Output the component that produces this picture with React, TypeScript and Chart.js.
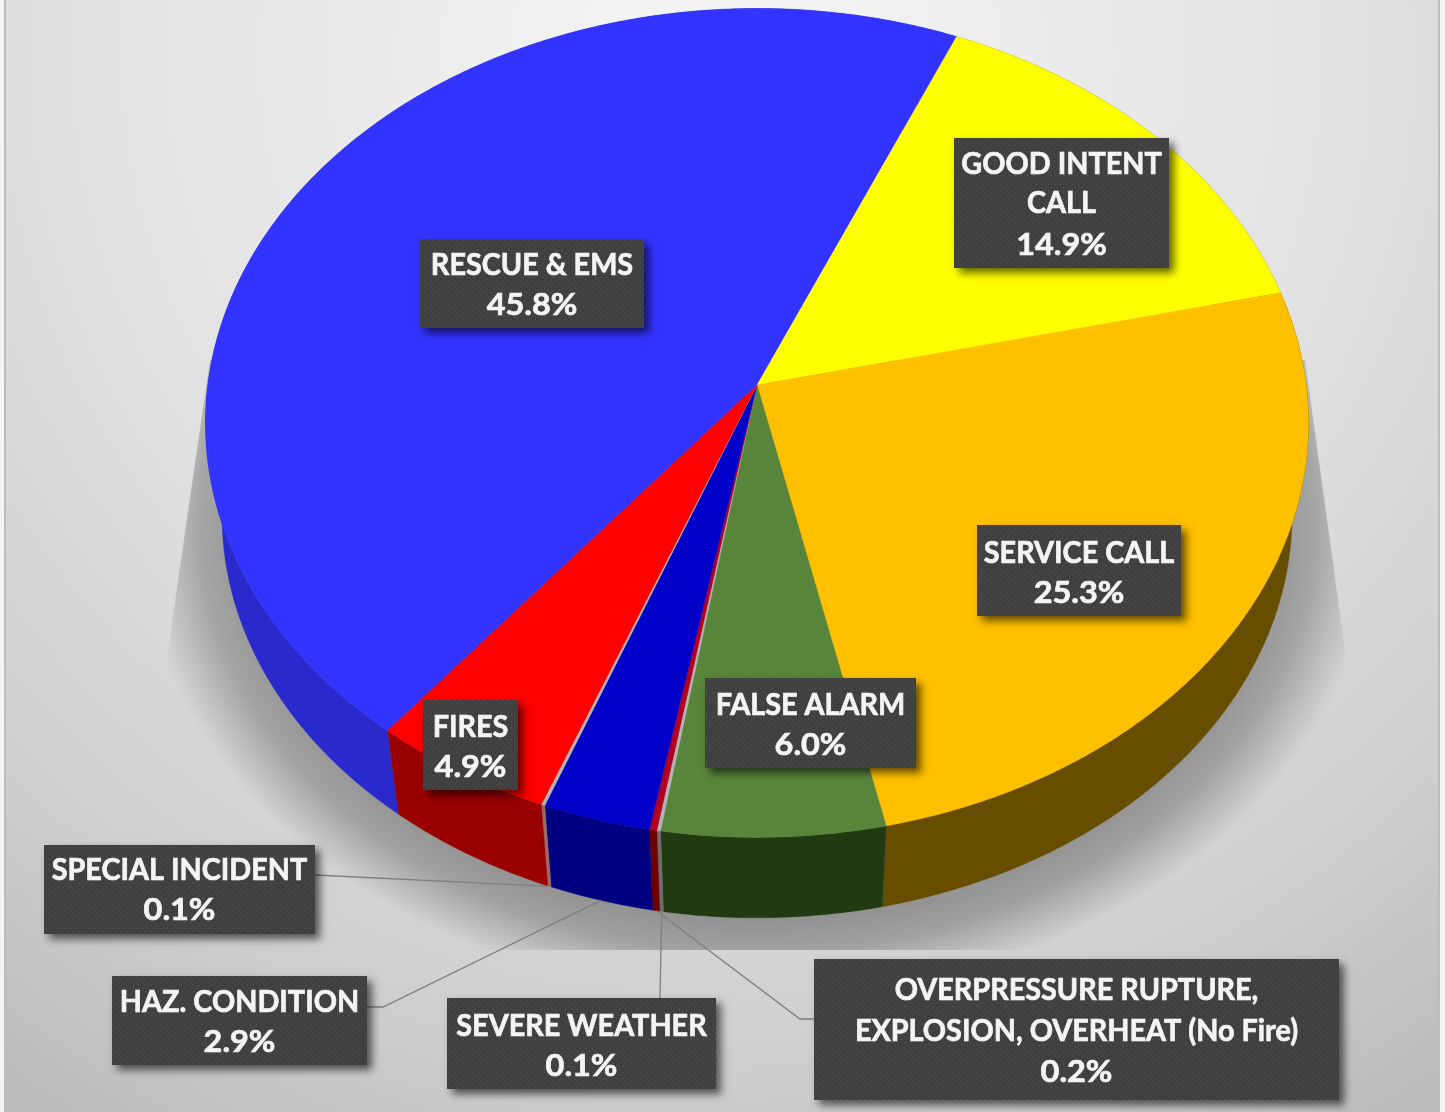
import React, { useEffect, useRef } from "react";
import { Chart, registerables, ArcElement, PieController } from "chart.js";

// Incident categories, in clockwise order round the pie
const categories = [
  "RESCUE & EMS",
  "GOOD INTENT CALL",
  "SERVICE CALL",
  "FALSE ALARM",
  "SEVERE WEATHER",
  "OVERPRESSURE RUPTURE, EXPLOSION, OVERHEAT (No Fire)",
  "HAZ. CONDITION",
  "SPECIAL INCIDENT",
  "FIRES",
];
const shares = [45.8, 14.9, 25.3, 6.0, 0.1, 0.2, 2.9, 0.1, 4.9];
const labelLines = [
  ["RESCUE & EMS"],
  ["GOOD INTENT", "CALL"],
  ["SERVICE CALL"],
  ["FALSE ALARM"],
  ["SEVERE WEATHER"],
  ["OVERPRESSURE RUPTURE,", "EXPLOSION, OVERHEAT (No Fire)"],
  ["HAZ. CONDITION"],
  ["SPECIAL INCIDENT"],
  ["FIRES"],
];
const topColors = ["#3333FF", "#FFFF00", "#FFC000", "#58853A", "#B4B4B4", "#B00020", "#0000C8", "#B4B4B4", "#FF0000"];
const sideColors = ["#2A2ACC", "#808000", "#664D00", "#223A12", "#6E6E6E", "#6E0000", "#000080", "#9A6A6A", "#990000"];

// Label boxes: [left, top, right, bottom], and the y of each text line
const labelBoxes = [
  [420, 239, 644, 328],
  [954, 138, 1169, 268],
  [977, 525, 1181, 616],
  [705, 678, 916, 768],
  [447, 998, 716, 1089],
  [814, 959, 1339, 1100],
  [112, 976, 367, 1065],
  [44, 845, 315, 934],
  [423, 700, 518, 790],
];
const labelLineYs = [
  [265, 305],
  [164, 203, 245],
  [553, 593],
  [705, 745],
  [1026, 1066],
  [990, 1031, 1072],
  [1002, 1042],
  [870, 910],
  [727, 767],
];
// Leader lines run from the lower rim of a thin slice through these elbows
const leaderElbows: Record<number, number[][]> = {
  4: [[660, 998]],
  5: [[800, 1019], [814, 1019]],
  6: [[383, 1007], [367, 1007]],
  7: [[315, 875]],
};

// Perspective of the tilted disc
const TILT = { sx: 549.2 / 385, sy: 411 / 385, k: 0.0916, rimScale: 0.97, depth: 94 };

function rimPoint(el: any, angle: number, lower = false) {
  const c = Math.cos(angle);
  const s = Math.sin(angle);
  const w = 1 - TILT.k * s;
  const scale = lower ? TILT.rimScale : 1;
  return {
    x: el.x + (TILT.sx * el.outerRadius * c * scale) / w,
    y: el.y + (lower ? TILT.depth : 0) + (TILT.sy * el.outerRadius * s * scale) / w,
  };
}

function arcSamples(start: number, end: number) {
  const n = Math.max(2, Math.ceil((end - start) / 0.01));
  return Array.from({ length: n + 1 }, (_, i) => start + ((end - start) * i) / n);
}

// Pie slice drawn as the top face of the tilted disc
class TiltedArc extends (ArcElement as any) {
  static id = "tiltedArc";
  draw(ctx: CanvasRenderingContext2D) {
    const self = this as any;
    ctx.save();
    ctx.beginPath();
    ctx.moveTo(self.x, self.y);
    for (const a of arcSamples(self.startAngle, self.endAngle)) {
      const p = rimPoint(self, a);
      ctx.lineTo(p.x, p.y);
    }
    ctx.closePath();
    ctx.fillStyle = self.options.backgroundColor;
    ctx.fill();
    ctx.strokeStyle = self.options.backgroundColor;
    ctx.lineWidth = 0.3;
    ctx.stroke();
    ctx.restore();
  }
}

class TiltedPie extends (PieController as any) {
  static id = "tiltedPie";
  static defaults = { dataElementType: "tiltedArc" };
}

Chart.register(...registerables, TiltedArc as any, TiltedPie as any);

function dottedPattern(ctx: CanvasRenderingContext2D) {
  const tile = document.createElement("canvas");
  tile.width = 6;
  tile.height = 6;
  const t = tile.getContext("2d")!;
  t.fillStyle = "#404040";
  t.fillRect(0, 0, 6, 6);
  t.fillStyle = "#545454";
  t.fillRect(1, 1, 1, 1);
  t.fillRect(4, 4, 1, 1);
  return ctx.createPattern(tile, "repeat")!;
}

const backdrop = {
  id: "backdrop",
  beforeDraw(chart: any) {
    const { ctx, width, height } = chart;
    ctx.save();
    const bg = ctx.createRadialGradient(722, 60, 100, 722, 60, 1250);
    bg.addColorStop(0, "#F3F3F3");
    bg.addColorStop(0.45, "#E2E2E2");
    bg.addColorStop(0.8, "#CDCDCD");
    bg.addColorStop(1, "#BBBBBB");
    ctx.fillStyle = bg;
    ctx.fillRect(0, 0, width, height);

    // Cast shadow behind the disc, hard at the sides and along the bottom
    ctx.save();
    ctx.beginPath();
    ctx.moveTo(210, 360);
    ctx.lineTo(168, 650);
    ctx.lineTo(168, 950);
    ctx.lineTo(1345, 950);
    ctx.lineTo(1345, 650);
    ctx.lineTo(1305, 360);
    ctx.closePath();
    ctx.clip();
    ctx.translate(757, 520);
    ctx.scale(620, 480);
    const sh = ctx.createRadialGradient(0, 0, 0, 0, 0, 1);
    sh.addColorStop(0, "rgba(90,90,90,0.6)");
    sh.addColorStop(0.8, "rgba(90,90,90,0.6)");
    sh.addColorStop(0.9, "rgba(90,90,90,0.42)");
    sh.addColorStop(1, "rgba(90,90,90,0)");
    ctx.fillStyle = sh;
    ctx.fillRect(-1.2, -1.2, 2.4, 2.4);
    ctx.restore();

    // Picture frame strips at both edges
    ctx.fillStyle = "#F4F4F4";
    ctx.fillRect(0, 0, 4, height);
    ctx.fillRect(1440, 0, 5, height);
    ctx.fillStyle = "#BDBDBD";
    ctx.fillRect(4, 0, 2, height);
    ctx.fillRect(1438, 0, 2, height);
    ctx.restore();
  },
};

const sideWalls = {
  id: "sideWalls",
  beforeDatasetsDraw(chart: any) {
    const { ctx } = chart;
    const arcs = chart.getDatasetMeta(0).data;
    ctx.save();
    arcs.forEach((el: any, i: number) => {
      const samples = arcSamples(el.startAngle, el.endAngle);
      ctx.beginPath();
      samples.forEach((a, j) => {
        const p = rimPoint(el, a);
        if (j === 0) ctx.moveTo(p.x, p.y);
        else ctx.lineTo(p.x, p.y);
      });
      [...samples].reverse().forEach((a) => {
        const p = rimPoint(el, a, true);
        ctx.lineTo(p.x, p.y);
      });
      ctx.closePath();
      ctx.fillStyle = sideColors[i];
      ctx.strokeStyle = sideColors[i];
      ctx.lineWidth = 0.3;
      ctx.fill();
      ctx.stroke();
    });
    ctx.restore();
  },
};

const sliceLabels = {
  id: "sliceLabels",
  afterDatasetsDraw(chart: any) {
    const { ctx } = chart;
    const arcs = chart.getDatasetMeta(0).data;
    const fill = dottedPattern(ctx);
    ctx.save();

    // Leader lines
    ctx.strokeStyle = "#7F7F7F";
    ctx.lineWidth = 1.3;
    Object.keys(leaderElbows).forEach((key) => {
      const i = Number(key);
      const el = arcs[i];
      const start = rimPoint(el, (el.startAngle + el.endAngle) / 2, true);
      ctx.beginPath();
      ctx.moveTo(start.x, start.y);
      leaderElbows[i].forEach(([x, y]) => ctx.lineTo(x, y));
      ctx.stroke();
    });

    // Boxes and their text
    categories.forEach((_, i) => {
      const [l, t, r, b] = labelBoxes[i];
      ctx.save();
      ctx.shadowColor = "rgba(0,0,0,0.6)";
      ctx.shadowBlur = 8;
      ctx.shadowOffsetX = 5;
      ctx.shadowOffsetY = 5;
      ctx.fillStyle = "#404040";
      ctx.fillRect(l, t, r - l, b - t);
      ctx.restore();
      ctx.fillStyle = fill;
      ctx.fillRect(l, t, r - l, b - t);

      const names = labelLines[i];
      const lines = [...names, `${shares[i].toFixed(1)}%`];
      ctx.fillStyle = "#F4F4F4";
      ctx.strokeStyle = "#F4F4F4";
      ctx.lineWidth = 0.7;
      ctx.font = "bold 30px Lato";
      ctx.textAlign = "center";
      ctx.textBaseline = "middle";
      lines.forEach((line, j) => {
        ctx.save();
        ctx.translate((l + r) / 2, labelLineYs[i][j]);
        ctx.scale(j === names.length ? 1.08 : 0.96, 1);
        ctx.fillText(line, 0, 0);
        ctx.strokeText(line, 0, 0);
        ctx.restore();
      });
    });
    ctx.restore();
  },
};

export default function App() {
  const ref = useRef<HTMLCanvasElement>(null);
  useEffect(() => {
    const chart = new Chart(ref.current!, {
      type: "tiltedPie" as any,
      data: {
        labels: categories,
        datasets: [{ data: shares, backgroundColor: topColors, borderWidth: 0 }],
      },
      options: {
        responsive: false,
        animation: false,
        events: [],
        rotation: 218.65,
        // Centres the 385px pie radius on the apex of the disc
        layout: { padding: { left: 372, right: 303, top: 0, bottom: 342 } },
        plugins: { legend: { display: false }, tooltip: { enabled: false } },
      } as any,
      plugins: [backdrop, sideWalls, sliceLabels] as any,
    });
    return () => chart.destroy();
  }, []);
  return (
    <canvas
      ref={ref}
      width={1445}
      height={1112}
      style={{ position: "absolute", left: 0, top: 0, display: "block" }}
    />
  );
}
